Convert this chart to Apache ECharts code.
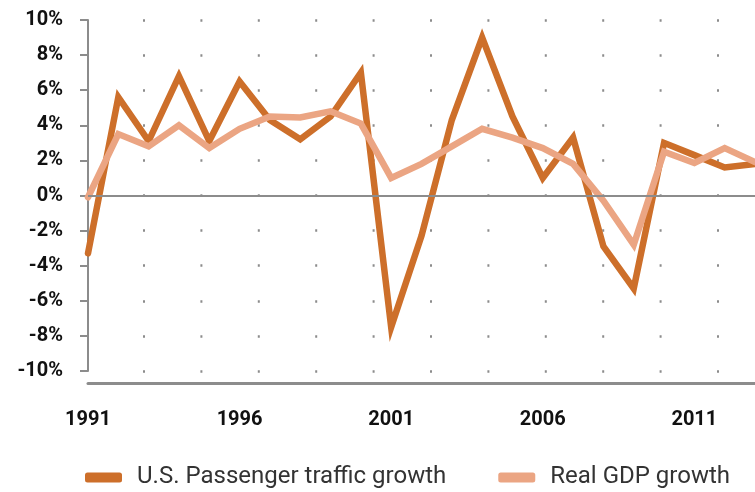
<html>
<head>
    <script src="https://cdn.jsdelivr.net/npm/echarts@6/dist/echarts.min.js"></script>
    <style>
        body { margin: 0 }
        #chart { width: 755px; height: 492px; }
    </style>
</head>
<body>
    <div id="chart"></div>
    <script>
        const years = ['1991', '1992', '1993', '1994', '1995', '1996', '1997', '1998', '1999', '2000',
            '2001', '2002', '2003', '2004', '2005', '2006', '2007', '2008', '2009', '2010',
            '2011', '2012', '2013'];
        const passengerGrowth = [-3.3, 5.6, 3.1, 6.8, 3.1, 6.5, 4.3, 3.2, 4.5, 7.0,
            -7.5, -2.3, 4.3, 9.0, 4.5, 1.0, 3.3, -2.9, -5.3, 3.0,
            2.3, 1.6, 1.8];
        const gdpGrowth = [-0.1, 3.5, 2.8, 4.0, 2.7, 3.8, 4.5, 4.45, 4.8, 4.1,
            1.0, 1.8, 2.8, 3.8, 3.3, 2.7, 1.8, -0.3, -2.8, 2.5,
            1.85, 2.7, 1.9];
        const seriesNames = ['U.S. Passenger traffic growth', 'Real GDP growth'];

        const chart = echarts.init(document.getElementById('chart'));
        const gray = '#8c8c8c';
        const font = 'Roboto';

        chart.setOption({
            animation: false,
            grid: { left: 88, right: 0, top: 20, bottom: 121 },
            legend: {
                top: 458,
                left: 85,
                padding: 0,
                icon: 'roundRect',
                itemWidth: 37,
                itemHeight: 10,
                itemGap: 52,
                textStyle: {
                    fontFamily: font,
                    fontSize: 24,
                    lineHeight: 24,
                    padding: [0, 0, 0, 10],
                    color: '#333'
                },
                data: seriesNames
            },
            xAxis: {
                type: 'category',
                data: years,
                boundaryGap: false,
                offset: 12,
                axisLine: { onZero: false, lineStyle: { color: gray, width: 3 } },
                axisTick: { show: false },
                axisLabel: {
                    interval: 4,
                    margin: 21,
                    fontFamily: font,
                    fontSize: 20,
                    fontWeight: 'bold',
                    color: '#111'
                },
                splitLine: { show: false }
            },
            yAxis: {
                type: 'value',
                min: -10,
                max: 10,
                interval: 2,
                axisLine: { show: true, lineStyle: { color: gray, width: 2 } },
                axisTick: { show: true, length: 8, lineStyle: { color: gray, width: 2 } },
                axisLabel: {
                    margin: 25,
                    formatter: '{value}%',
                    fontFamily: font,
                    fontSize: 20,
                    fontWeight: 'bold',
                    color: '#111'
                },
                splitLine: {
                    show: true,
                    lineStyle: { color: gray, width: 2.5, type: [2, 55.4], dashOffset: 2.4 }
                }
            },
            series: [
                {
                    name: seriesNames[0],
                    type: 'line',
                    data: passengerGrowth,
                    symbol: 'none',
                    itemStyle: { color: '#cd6f2a' },
                    lineStyle: { color: '#cd6f2a', width: 6.5, join: 'miter', cap: 'round' },
                    markLine: {
                        silent: true,
                        symbol: 'none',
                        label: { show: false },
                        lineStyle: { color: gray, type: 'solid', width: 2 },
                        data: [{ yAxis: 0 }]
                    },
                    z: 2
                },
                {
                    name: seriesNames[1],
                    type: 'line',
                    data: gdpGrowth,
                    symbol: 'none',
                    itemStyle: { color: '#eba583' },
                    lineStyle: { color: '#eba583', width: 6.5, join: 'miter', cap: 'round' },
                    z: 3
                }
            ]
        });
    </script>
</body>
</html>
